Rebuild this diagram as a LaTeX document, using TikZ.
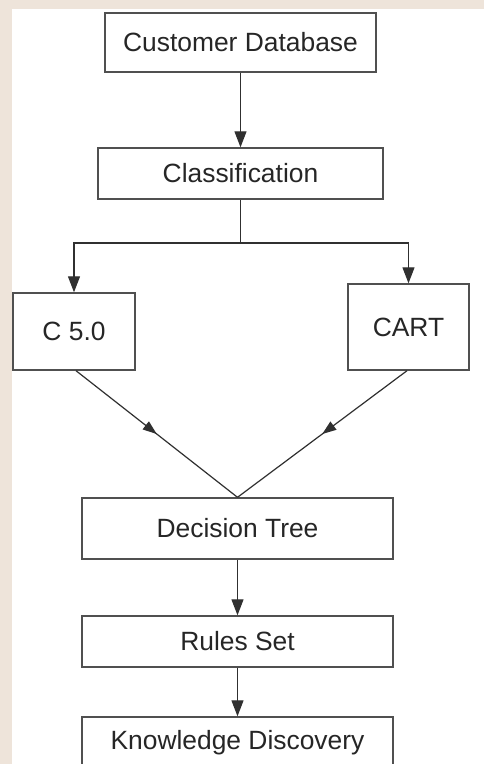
\documentclass[tikz,border=0pt]{standalone}
\usepackage{fontspec}
\setmainfont{Liberation Sans}
\usetikzlibrary{arrows.meta,decorations.markings}
\definecolor{bgtone}{HTML}{EEE4DA}
\definecolor{boxline}{HTML}{505050}
\definecolor{lineclr}{HTML}{303030}
\begin{document}
\begin{tikzpicture}[x=1pt,y=-1pt,
  flowbox/.style={draw=boxline,line width=1.4pt,fill=white,inner sep=0pt,
    font=\fontsize{26.4}{30}\selectfont,text=black!85},
  conn/.style={draw=lineclr,line width=1.2pt},
  arr/.style={conn,-{Triangle[length=16pt,width=12pt]}},
  midarr/.style={conn,postaction={decorate},decoration={markings,
    mark=at position 0.5 with {\arrow{Triangle[length=14pt,width=10pt]}}}}]
\useasboundingbox (0,0) rectangle (484,764);
\clip (0,0) rectangle (484,764);
\fill[bgtone] (0,0) rectangle (484,764);
\fill[white] (12,9) rectangle (484,764);
\node[flowbox,minimum width=271pt,minimum height=59pt] (cdb) at (240.5,42.5) {Customer Database};
\node[flowbox,minimum width=285pt,minimum height=51pt] (cls) at (240.5,173.5) {Classification};
\node[flowbox,minimum width=122pt,minimum height=77pt] (c50) at (74,331.5) {C 5.0};
\node[flowbox,minimum width=121pt,minimum height=86pt] (cart) at (408.5,327) {CART};
\node[flowbox,minimum width=311pt,minimum height=61pt] (dt) at (237.5,528.5) {Decision Tree};
\node[flowbox,minimum width=311pt,minimum height=51pt] (rs) at (237.5,641.5) {Rules Set};
\node[flowbox,minimum width=311pt,minimum height=51pt] (kd) at (237.5,742.5) {Knowledge Discovery};
\coordinate (jn) at (240.5,243);
\draw[arr] (cdb.south) -- (cls.north);
\draw[conn] (cls.south) -- (jn);
\draw[arr] (jn) -| (c50.north);
\draw[arr] (jn) -| (cart.north);
\draw[midarr] ([xshift=2pt]c50.south) -- (dt.north);
\draw[midarr] ([xshift=-1.5pt]cart.south) -- (dt.north);
\draw[arr] (dt.south) -- (rs.north);
\draw[arr] (rs.south) -- (kd.north);
\end{tikzpicture}
\end{document}
